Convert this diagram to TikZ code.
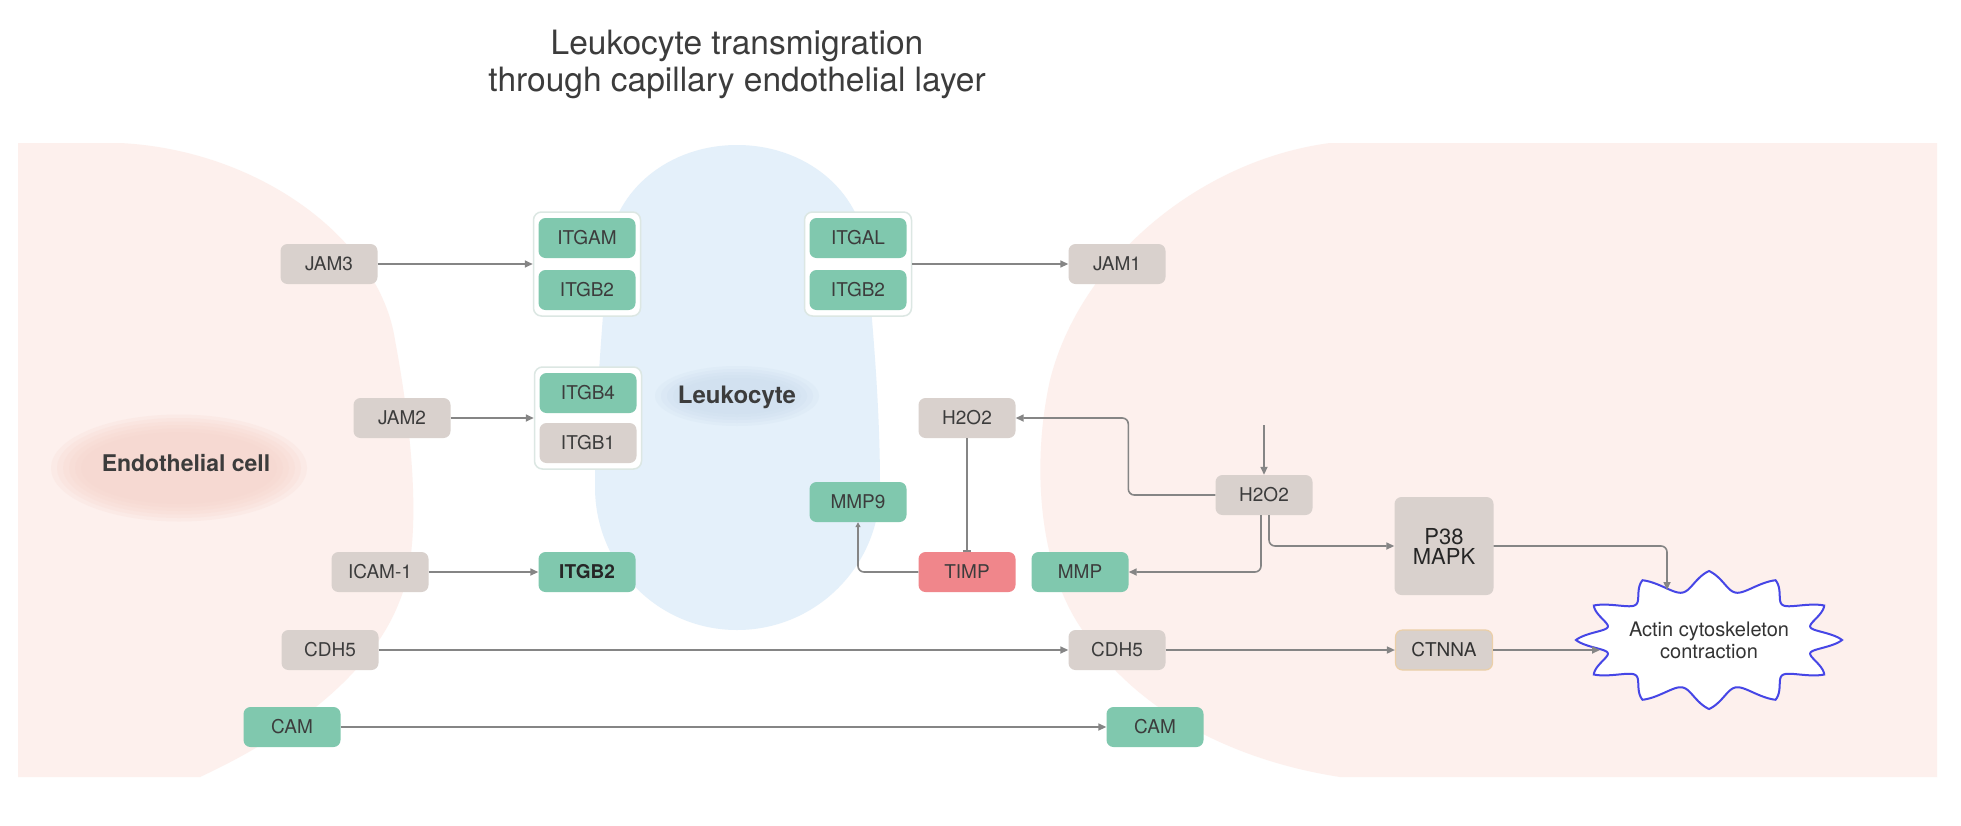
\documentclass[tikz,border=0pt]{standalone}
\usepackage{fontspec}
\setmainfont{TeX Gyre Heros}
\usetikzlibrary{arrows.meta,calc}
\definecolor{pinkbg}{HTML}{FDF0ED}
\definecolor{bluebg}{HTML}{E4F0FA}
\definecolor{blueblob}{HTML}{C9DAEC}
\definecolor{pinkblob}{HTML}{F6D3CA}
\definecolor{boxgreen}{HTML}{80C8AE}
\definecolor{boxgray}{HTML}{D9D1CD}
\definecolor{boxred}{HTML}{F0868B}
\definecolor{txt}{HTML}{3C3C3C}
\definecolor{linegray}{HTML}{858585}
\definecolor{framec}{HTML}{DCE7E3}
\definecolor{cloudblue}{HTML}{4646E6}
\definecolor{tanb}{HTML}{EBCFA8}
\begin{document}
\begin{tikzpicture}[x=1pt,y=-1pt,
  lbl/.style={font=\fontsize{19}{22}\selectfont, text=txt},
  pbox/.style={lbl, rounded corners=7pt, minimum width=97pt, minimum height=40pt, inner sep=0pt},
  gbox/.style={pbox, fill=boxgray},
  tbox/.style={pbox, fill=boxgreen},
  rbox/.style={pbox, fill=boxred},
  grpframe/.style={draw=framec, line width=1.5pt, fill=white, rounded corners=8pt, minimum width=107pt, inner sep=0pt},
  conn/.style={draw=linegray, line width=1.6pt, -{Triangle[length=8pt,width=7pt]}},
  inhib/.style={draw=linegray, line width=1.6pt, -{Bar[width=8pt,line width=1.6pt]}},
  smallconn/.style={draw=linegray, line width=1.6pt, -{Triangle[length=5pt,width=5pt]}}
]
\useasboundingbox (0,0) rectangle (1961,825);
\fill[white] (0,0) rectangle (1961,825);

% ---- backgrounds ----
\fill[pinkbg] (18,143) -- (120,143) .. controls (260,150) and (380,240) .. (395,340)
  .. controls (410,420) and (425,540) .. (400,600)
  .. controls (370,680) and (280,740) .. (200,777) -- (18,777) -- cycle;
\fill[pinkbg] (1937,143) -- (1330,143) .. controls (1200,160) and (1080,260) .. (1050,380)
  .. controls (1030,470) and (1040,580) .. (1090,640)
  .. controls (1140,710) and (1230,760) .. (1340,777) -- (1937,777) -- cycle;
\fill[bluebg] (737,145) .. controls (805,145) and (860,190) .. (866,250)
  .. controls (872,320) and (880,400) .. (880,487)
  .. controls (880,566) and (816,630) .. (737,630)
  .. controls (658,630) and (595,566) .. (595,487)
  .. controls (595,400) and (603,320) .. (608,250)
  .. controls (614,190) and (669,145) .. (737,145) -- cycle;
\foreach \i in {0,...,5}
  \fill[pinkblob, opacity=0.2] (179,468) ellipse[x radius=98+6*\i, y radius=36+3.5*\i];
\foreach \i in {0,...,4}
  \fill[blueblob, opacity=0.18] (737,396) ellipse[x radius=58+6*\i, y radius=18+3*\i];

% ---- title and labels ----
\node[align=center, text=txt, font=\fontsize{33.5}{37}\selectfont] (title) at (737,64)
  {Leukocyte transmigration\\through capillary endothelial layer};
\node[font=\fontsize{24}{28}\selectfont\bfseries, text=txt] (leuko) at (737,397) {Leukocyte};
\node[font=\fontsize{23}{27}\selectfont\bfseries, text=txt] (endo) at (186,463) {Endothelial cell};

% ---- group frames ----
\node[grpframe, minimum height=104pt] (grpL) at (587,264) {};
\node[grpframe, minimum height=104pt] (grpR) at (858,264) {};
\node[grpframe, minimum height=102pt] (grpM) at (588,418) {};

% ---- nodes ----
\node[gbox] (jam3) at (329,264) {JAM3};
\node[tbox] (itgam) at (587,238) {ITGAM};
\node[tbox] (itgb2a) at (587,290) {ITGB2};
\node[tbox] (itgal) at (858,238) {ITGAL};
\node[tbox] (itgb2b) at (858,290) {ITGB2};
\node[gbox] (jam1) at (1117,264) {JAM1};
\node[gbox] (jam2) at (402,418) {JAM2};
\node[tbox] (itgb4) at (588,393) {ITGB4};
\node[gbox] (itgb1) at (588,443) {ITGB1};
\node[gbox] (h2a) at (967,418) {H2O2};
\node[gbox] (h2b) at (1264,495) {H2O2};
\node[tbox] (mmp9) at (858,502) {MMP9};
\node[rbox] (timp) at (967,572) {TIMP};
\node[tbox] (mmp) at (1080,572) {MMP};
\node[gbox, minimum width=99pt, minimum height=98pt, align=center,
      font=\fontsize{22}{20}\selectfont, text=black!85] (p38) at (1444,546) {P38\\MAPK};
\node[gbox] (icam) at (380,572) {ICAM-1};
\node[tbox, font=\fontsize{19}{22}\selectfont\bfseries, text=black!85] (itgb2c) at (587,572) {ITGB2};
\node[gbox] (cdh5a) at (330,650) {CDH5};
\node[gbox] (cdh5b) at (1117,650) {CDH5};
\node[gbox, draw=tanb, line width=1.2pt, text=black!80] (ctnna) at (1444,650) {CTNNA};
\node[tbox] (cama) at (292,727) {CAM};
\node[tbox] (camb) at (1155,727) {CAM};

% ---- cloud ----
\draw[cloudblue, line width=2pt, fill=white]
  plot[domain=0:360, samples=721, variable=\t]
  ({1709+(119+14*(0.5*cos(12*\t)+0.5*(1-2*abs(sin(6*\t)))))*cos(\t)},
   {640+(59+10*(0.5*cos(12*\t)+0.5*(1-2*abs(sin(6*\t)))))*sin(\t)}) -- cycle;
\node[align=center, font=\fontsize{20}{22}\selectfont, text=black!80] (cloud) at (1709,640)
  {Actin cytoskeleton\\contraction};
\coordinate (cloudtop) at (1667,590);
\coordinate (cloudleft) at (1600,650);
\coordinate (h2src) at (1264,425);

% ---- connectors ----
\draw[conn] (jam3.east) -- (jam3.east -| grpL.west);
\draw[conn] (grpR.east |- jam1.west) -- (jam1.west);
\draw[conn] (jam2.east) -- (jam2.east -| grpM.west);
\draw[conn] (icam.east) -- (itgb2c.west);
\draw[conn] (cdh5a.east) -- (cdh5b.west);
\draw[conn] (cdh5b.east) -- (ctnna.west);
\draw[conn] (ctnna.east) -- (cloudleft);
\draw[conn, rounded corners=6pt] (p38.east) -| (cloudtop);
\draw[conn] (cama.east) -- (camb.west);
\draw[conn] (h2src) -- (h2b.north);
\draw[conn, rounded corners=6pt] (h2b.west) -- ++(-87,0) |- (h2a.east);
\draw[conn, rounded corners=6pt] ([xshift=-3pt]h2b.south) |- (mmp.east);
\draw[conn, rounded corners=6pt] ([xshift=5pt]h2b.south) |- (p38.west);
\draw[inhib] (h2a.south) -- (timp.north);
\draw[smallconn, rounded corners=6pt] (timp.west) -| (mmp9.south);
\end{tikzpicture}
\end{document}
